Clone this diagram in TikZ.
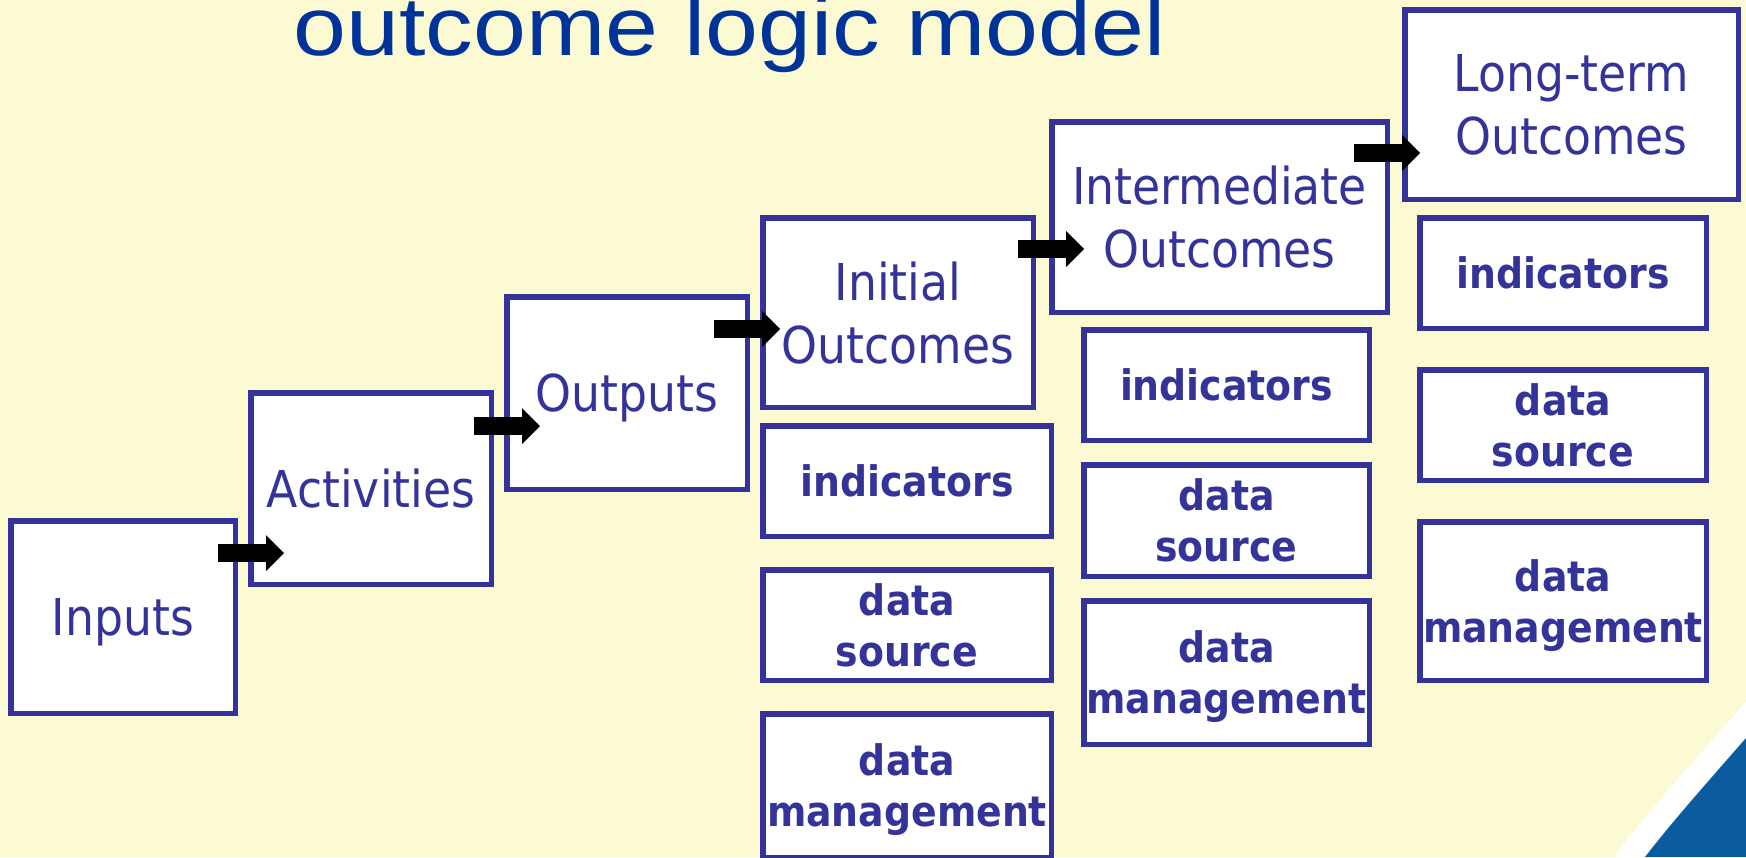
\documentclass[tikz,border=0pt]{standalone}
\usepackage{fontspec}
\usetikzlibrary{arrows.meta}
\newfontfamily\boxfont[FakeStretch=0.9]{DejaVu Sans}
\newfontfamily\titlefont[FakeStretch=1.146]{Liberation Sans}
\definecolor{bg}{HTML}{FBFAD3}
\definecolor{navy}{HTML}{333399}
\definecolor{titleblue}{HTML}{003399}
\definecolor{swoosh}{HTML}{0B5C9E}
\begin{document}
\begin{tikzpicture}[x=0.5pt,y=-0.5pt,
  stagebox/.style={draw=navy, line width=2.75pt, fill=white, text=navy, inner sep=0pt, align=center,
    text depth=0pt, font=\boxfont\fontsize{25.4pt}{31.5pt}\selectfont},
  measurebox/.style={stagebox, font=\boxfont\bfseries\fontsize{21pt}{25.5pt}\selectfont},
  blockarrow/.style={draw=black, line width=9pt, -{Triangle[length=9pt,width=18pt,line width=0pt]}}]
\useasboundingbox (0,0) rectangle (1746,857);
\clip (0,0) rectangle (1746,857);
\fill[bg] (0,0) rectangle (1746,857);
% corner swoosh
\fill[white] (1746,702) .. controls (1690,765) and (1645,815) .. (1614,857) -- (1746,857) -- cycle;
\fill[swoosh] (1746,738) .. controls (1705,785) and (1672,822) .. (1645,857) -- (1746,857) -- cycle;
% title
\node[anchor=base west, inner sep=0pt, text=titleblue, font=\titlefont\fontsize{41.5pt}{48pt}\selectfont] (title) at (293,55) {outcome logic model};
% stage boxes
\node[stagebox, minimum width=112.25pt, minimum height=96.25pt] (inputs) at (123,617) {Inputs};
\node[stagebox, minimum width=120.25pt, minimum height=95.75pt] (activities) at (371,488.5) {Activities};
\node[stagebox, minimum width=120.25pt, minimum height=96.25pt] (outputs) at (627,393) {Outputs};
\node[stagebox, minimum width=135.25pt, minimum height=94.75pt] (initial) at (898,312.5) {Initial\\Outcomes};
\node[stagebox, minimum width=167.75pt, minimum height=95.25pt] (intermediate) at (1219.5,217) {Intermediate\\Outcomes};
\node[stagebox, minimum width=166.75pt, minimum height=94.75pt] (longterm) at (1571.5,104.5) {Long-term\\Outcomes};
% measurement boxes
\node[measurebox, minimum width=144.25pt, minimum height=55.25pt] (ind4) at (907,481) {indicators};
\node[measurebox, minimum width=144.25pt, minimum height=55.25pt] (ds4) at (907,625) {data\\source};
\node[measurebox, minimum width=144.25pt, minimum height=71.75pt] (dm4) at (907,785.5) {data\\management};
\node[measurebox, minimum width=142.75pt, minimum height=55.25pt] (ind5) at (1226.5,385) {indicators};
\node[measurebox, minimum width=142.75pt, minimum height=55.75pt] (ds5) at (1226.5,520.5) {data\\source};
\node[measurebox, minimum width=142.75pt, minimum height=71.75pt] (dm5) at (1226.5,672.5) {data\\management};
\node[measurebox, minimum width=143.25pt, minimum height=55.25pt] (ind6) at (1563,273) {indicators};
\node[measurebox, minimum width=143.25pt, minimum height=55.25pt] (ds6) at (1563,425) {data\\source};
\node[measurebox, minimum width=143.25pt, minimum height=79.25pt] (dm6) at (1563,601) {data\\management};
% arrow end points
\coordinate (a1s) at (218,553);  \coordinate (a1e) at (284,553);
\coordinate (a2s) at (474,426);  \coordinate (a2e) at (540,426);
\coordinate (a3s) at (714,329);  \coordinate (a3e) at (780,329);
\coordinate (a4s) at (1018,249); \coordinate (a4e) at (1084,249);
\coordinate (a5s) at (1354,153); \coordinate (a5e) at (1420,153);
\draw[blockarrow] (a1s) -- (a1e);
\draw[blockarrow] (a2s) -- (a2e);
\draw[blockarrow] (a3s) -- (a3e);
\draw[blockarrow] (a4s) -- (a4e);
\draw[blockarrow] (a5s) -- (a5e);
\end{tikzpicture}
\end{document}
